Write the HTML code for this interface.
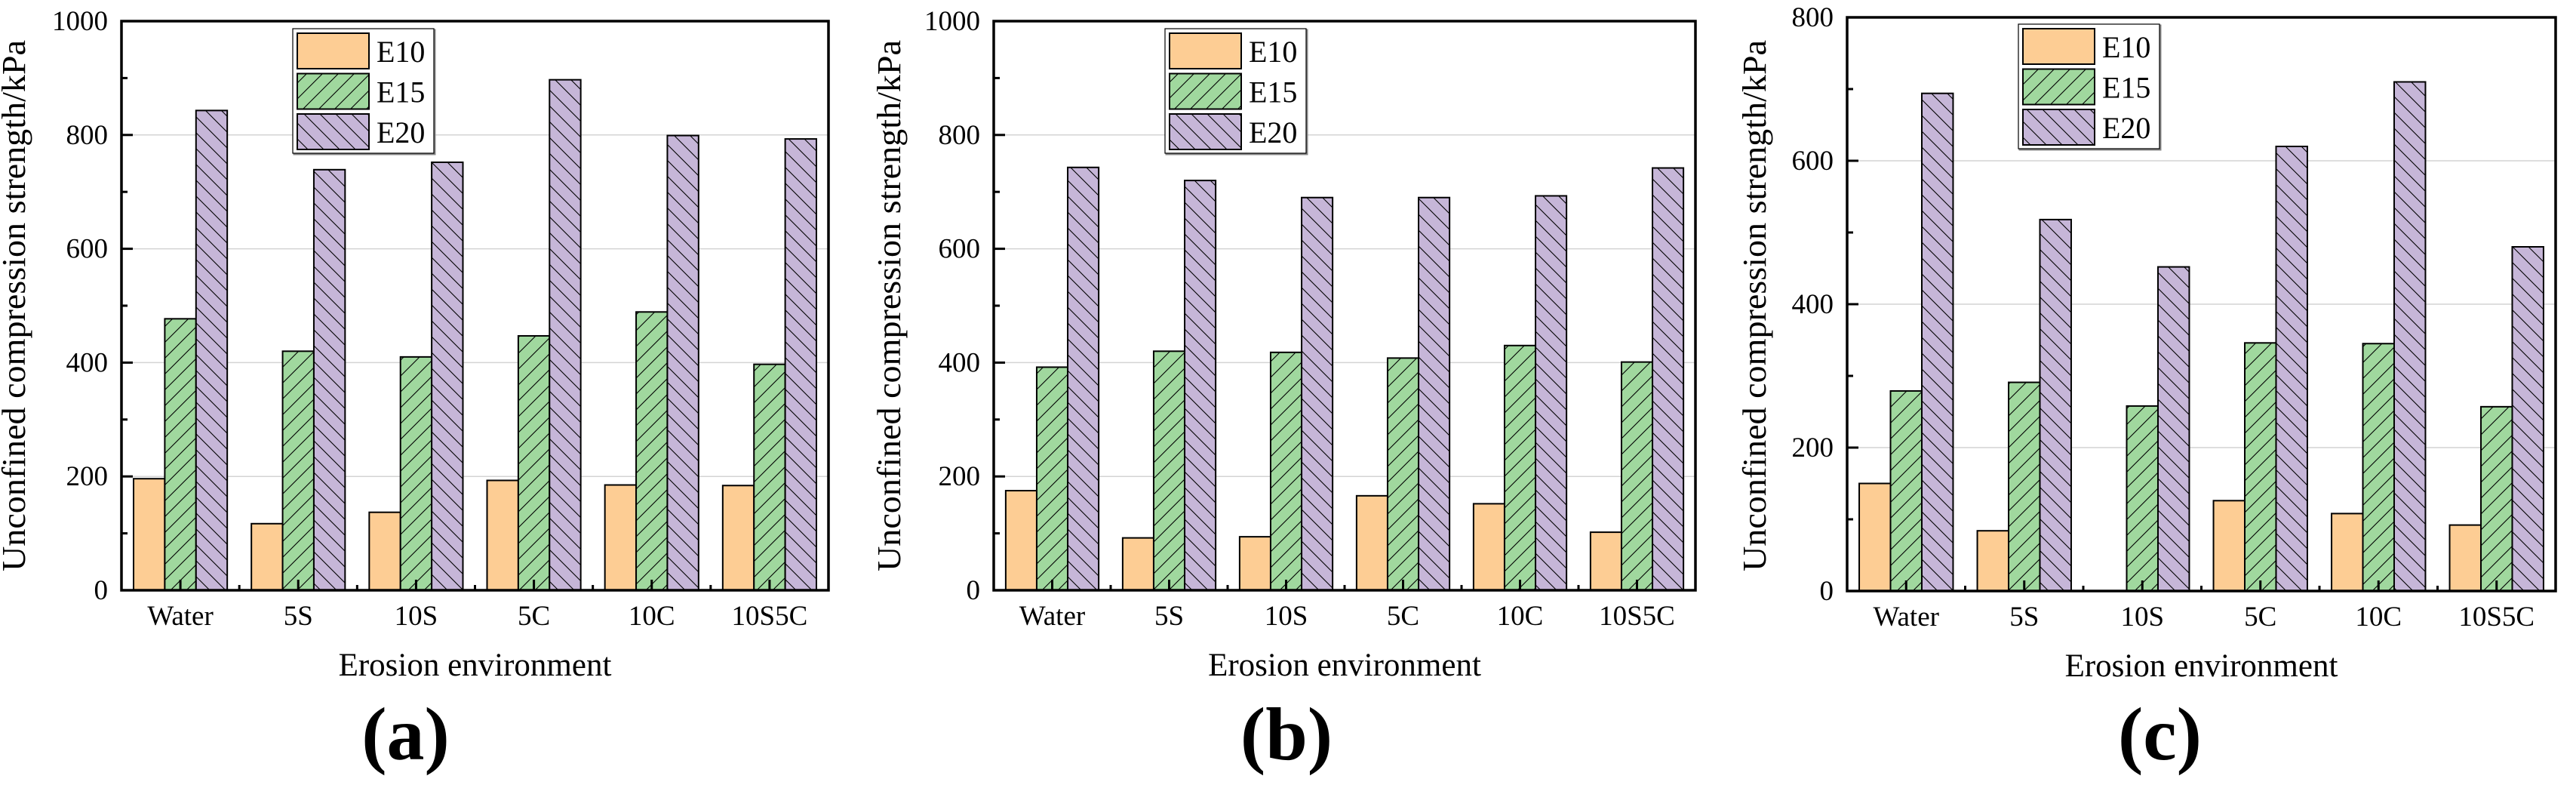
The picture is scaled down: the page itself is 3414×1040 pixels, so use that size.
<!DOCTYPE html>
<html><head><meta charset="utf-8"><style>
html,body{margin:0;padding:0;background:#fff;}
svg{display:block;}
svg text{font-family:"Liberation Serif","Times New Roman","DejaVu Serif",serif;fill:#000;}
</style></head><body>
<svg id="fig" width="3414" height="1040" viewBox="0 0 3414 1040" xmlns="http://www.w3.org/2000/svg" font-family="Liberation Serif, Times New Roman, serif">
<defs>
<pattern id="hatchF" patternUnits="userSpaceOnUse" width="21" height="21">
<rect width="21" height="21" fill="#a0d89e"/>
<path d="M-2,23 L23,-2 M-2,2 L2,-2 M19,23 L23,19" stroke="#000" stroke-width="1.1"/>
</pattern>
<pattern id="hatchB" patternUnits="userSpaceOnUse" width="21" height="21">
<rect width="21" height="21" fill="#c6b6d8"/>
<path d="M-2,-2 L23,23 M19,-2 L23,2 M-2,19 L2,23" stroke="#000" stroke-width="1.1"/>
</pattern>
</defs>
</svg>
<script>
const categories = ["Water","5S","10S","5C","10C","10S5C"];
const seriesNames = ["E10","E15","E20"];
const aE10 = [196,117,137,193,185,184];
const aE15 = [477,420,410,447,489,397];
const aE20 = [843,739,752,897,799,793];
const bE10 = [175,92,94,166,152,102];
const bE15 = [392,420,418,408,430,401];
const bE20 = [743,720,690,690,693,742];
const cE10 = [150,84,0,126,108,92];
const cE15 = [279,291,258,346,345,257];
const cE20 = [694,518,452,620,710,480];
const ticksAB = [0,200,400,600,800,1000];
const ticksC = [0,200,400,600,800];
const panelLabels = ["(a)","(b)","(c)"];

const NS="http://www.w3.org/2000/svg";
const svg=document.getElementById('fig');
const FONT='"Liberation Serif", "Times New Roman", serif';
const fills=["#fdcd94","url(#hatchF)","url(#hatchB)"];
function mk(tag,attrs,parent){const e=document.createElementNS(NS,tag);for(const k in attrs)e.setAttribute(k,attrs[k]);if(tag==='text'){e.style.fontFamily=FONT;}(parent||svg).appendChild(e);return e;}

function drawPanel(p){
  const g=mk('g',{});
  
  
  const yMax=p.ticks[p.ticks.length-1];
  const y=v=>p.bottom-(v/yMax)*(p.bottom-p.top);
  const catW=(p.right-p.left)/categories.length;
  const cx=i=>p.left+catW*(i+0.5);
  const bw=catW*0.265;
  p.ticks.forEach(t=>{ if(t>0&&t<yMax){const l=mk('line',{x1:p.left,x2:p.right,y1:y(t),y2:y(t),stroke:'#d4d4d4','stroke-width':1.5},g);
    
    }});
  p.series.forEach((vals,s)=>{
    vals.forEach((v,i)=>{
      if(v<=0) return;
      const x=cx(i)+(s-1.5)*bw;
      const r=mk('rect',{x:x,y:y(v),width:bw,height:p.bottom-y(v),fill:fills[s],stroke:'#000','stroke-width':2},g);
      
      
    });
  });
  for(let t=0;t<=yMax;t+=100){
    const major=(t%200===0);
    mk('line',{x1:p.left,x2:p.left+(major?15:8),y1:y(t),y2:y(t),stroke:'#000','stroke-width':3},g);
    if(major){const tx=mk('text',{x:p.left-18,y:y(t)+12,'font-size':37,'text-anchor':'end'},g);
      tx.textContent=t;
      
      }
  }
  categories.forEach((c,i)=>{
    mk('line',{x1:cx(i),x2:cx(i),y1:p.bottom,y2:p.bottom-14,stroke:'#000','stroke-width':3},g);
    if(i>0) mk('line',{x1:p.left+catW*i,x2:p.left+catW*i,y1:p.bottom,y2:p.bottom-7,stroke:'#000','stroke-width':3},g);
    const tx=mk('text',{x:cx(i),y:p.bottom+46,'font-size':37,'text-anchor':'middle'},g);
    tx.textContent=c;
    
    
  });
  const fr=mk('rect',{x:p.left,y:p.top,width:p.right-p.left,height:p.bottom-p.top,fill:'none',stroke:'#000','stroke-width':3.5},g);
  
  
  const xt=mk('text',{x:(p.left+p.right)/2,y:p.bottom+113,'font-size':43,'text-anchor':'middle'},g);
  xt.textContent='Erosion environment';
  
  
  const yc=405;
  const yt=mk('text',{x:0,y:0,'font-size':44,'text-anchor':'middle',textLength:704,lengthAdjust:'spacingAndGlyphs',transform:'translate('+(p.left-p.ytOff)+','+yc+') rotate(-90)'},g);
  yt.textContent='Unconfined compression strength/kPa';
  
  
  const pl=mk('text',{x:(p.left+p.right)/2+p.plOff,y:1006,'font-size':100,'font-weight':'bold','text-anchor':'middle'},g);
  pl.textContent=p.label;
  
  
  const lx=p.left+227, ly=p.legTop;
  const lg=mk('g',{},g);
  
  
  mk('rect',{x:lx+1.5,y:ly+1.5,width:187,height:165,fill:'none',stroke:'#888','stroke-width':2},lg);
  mk('rect',{x:lx,y:ly,width:187,height:165,fill:'#fff',stroke:'#000','stroke-width':1.2},lg);
  seriesNames.forEach((n,s)=>{
    const sy=ly+6+s*53.5;
    const sw=mk('rect',{x:lx+6,y:sy,width:95,height:47,fill:fills[s],stroke:'#000','stroke-width':2},lg);
    
    
    const t=mk('text',{x:lx+111,y:sy+38,'font-size':40},lg);
    t.textContent=n;
    
    
  });
}
drawPanel({id:'a',left:161,right:1098,top:28,bottom:782,ticks:ticksAB,series:[aE10,aE15,aE20],label:panelLabels[0],legTop:38,ytOff:128,plOff:-92});
drawPanel({id:'b',left:1317,right:2247,top:28,bottom:782,ticks:ticksAB,series:[bE10,bE15,bE20],label:panelLabels[1],legTop:38,ytOff:124,plOff:-77});
drawPanel({id:'c',left:2448,right:3387,top:23,bottom:783,ticks:ticksC,series:[cE10,cE15,cE20],label:panelLabels[2],legTop:32,ytOff:108,plOff:-55});
</script>
</body></html>
